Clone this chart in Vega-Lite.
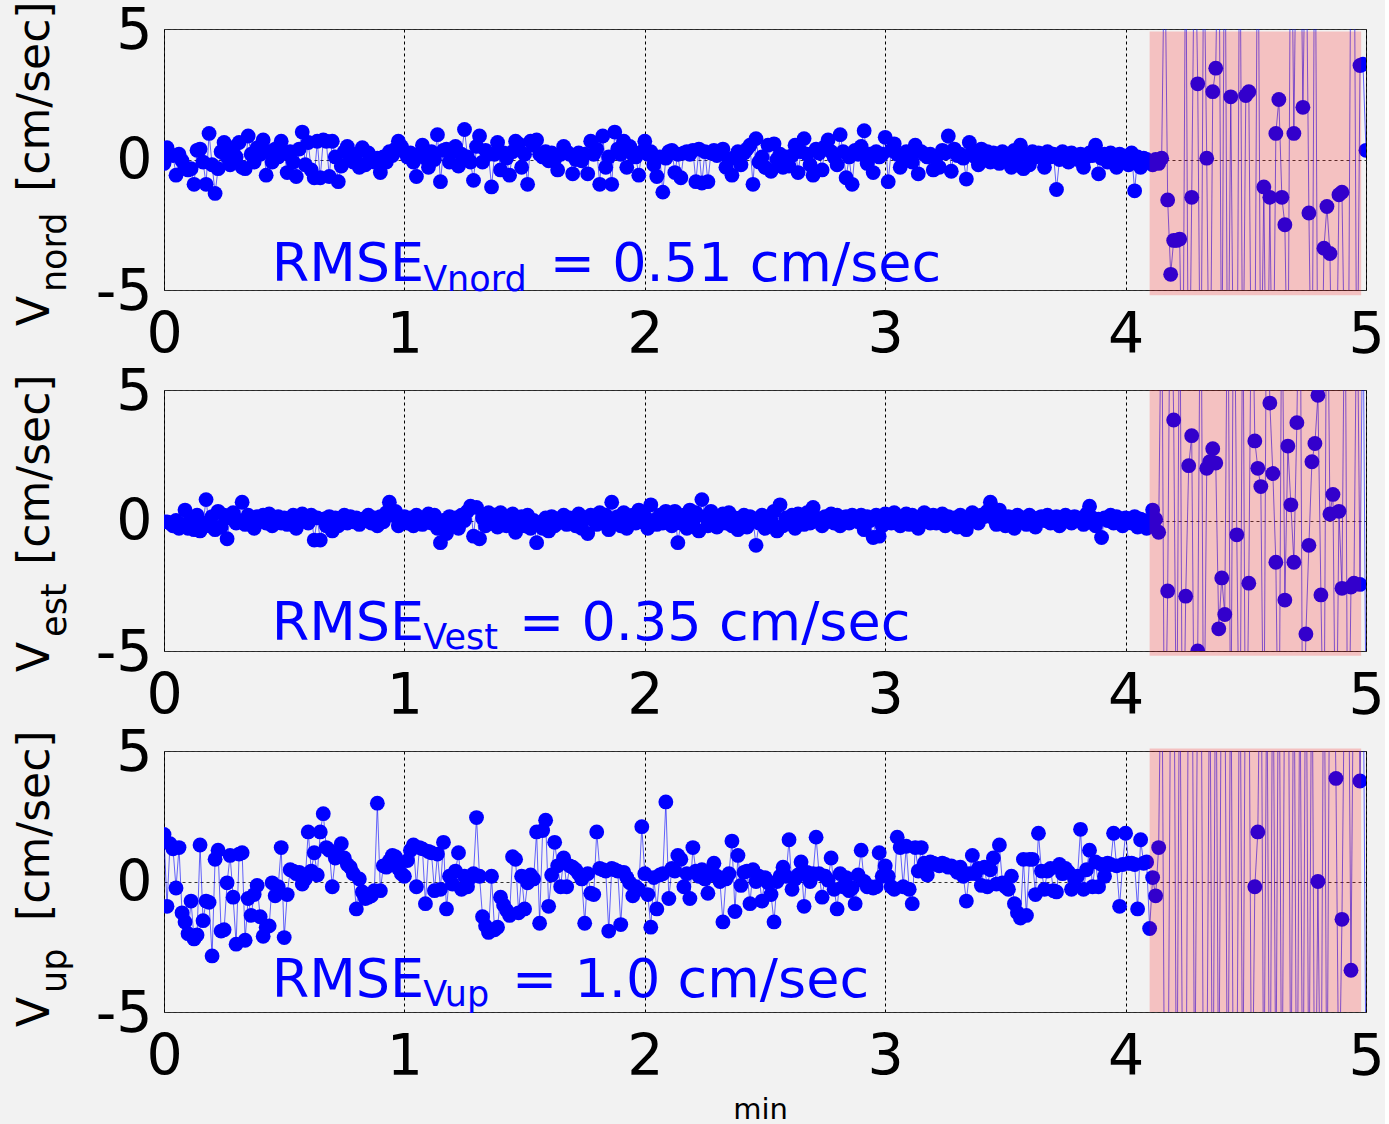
{
"$schema": "https://vega.github.io/schema/vega-lite/v6.json",
"background": "#f2f2f2",
"padding": {"left": 13, "top": 0, "right": 0, "bottom": 0},
"config": {"view": {"stroke": "#262626", "strokeWidth": 1}, "font": "DejaVu Sans"},
"spacing": 100,
"bounds": "flush",
"datasets": {"vel": [
{"t":0,"n":-0.15,"e":-0.05,"u":1.8},{"t":0.0125,"n":0.45,"e":-0.05,"u":-0.95},{"t":0.025,"n":0.2,"e":-0.1,"u":1.45},{"t":0.0375,"n":0.15,"e":-0.2,"u":1.25},{"t":0.05,"n":-0.6,"e":0,"u":-0.25},{"t":0.0625,"n":0.2,"e":-0.3,"u":1.3},{"t":0.075,"n":-0.05,"e":-0.15,"u":-1.2},{"t":0.0875,"n":-0.3,"e":0.4,"u":-1.55},
{"t":0.1,"n":-0.4,"e":-0.3,"u":-2},{"t":0.1125,"n":-0.35,"e":0.1,"u":-0.75},{"t":0.125,"n":-0.95,"e":-0.35,"u":-2.2},{"t":0.1375,"n":0.35,"e":0.2,"u":-2.05},{"t":0.15,"n":0.4,"e":-0.4,"u":1.4},{"t":0.1625,"n":-0.1,"e":-0.1,"u":-1.5},{"t":0.175,"n":-0.95,"e":0.8,"u":-0.75},{"t":0.1875,"n":1,"e":-0.2,"u":-0.8},
{"t":0.2,"n":-0.2,"e":0.15,"u":-2.85},{"t":0.2125,"n":-1.3,"e":-0.35,"u":0.85},{"t":0.225,"n":-0.35,"e":0.35,"u":1.2},{"t":0.2375,"n":0.3,"e":-0.25,"u":-1.9},{"t":0.25,"n":0.65,"e":0.2,"u":-1.85},{"t":0.2625,"n":0.1,"e":-0.7,"u":-0.05},{"t":0.275,"n":-0.2,"e":0.1,"u":1},{"t":0.2875,"n":0.45,"e":0.3,"u":-0.6},
{"t":0.3,"n":0.1,"e":-0.1,"u":-2.4},{"t":0.3125,"n":0.65,"e":0,"u":1.05},{"t":0.325,"n":-0.3,"e":0.7,"u":1.1},{"t":0.3375,"n":-0.35,"e":-0.15,"u":-2.25},{"t":0.35,"n":0.9,"e":0.2,"u":-0.65},{"t":0.3625,"n":0.2,"e":0.1,"u":-1.3},{"t":0.375,"n":-0.1,"e":-0.3,"u":-0.5},{"t":0.3875,"n":0.45,"e":0.15,"u":-0.15},
{"t":0.4,"n":0.2,"e":0.05,"u":-1.35},{"t":0.4125,"n":0.75,"e":0.2,"u":-2.1},{"t":0.425,"n":-0.6,"e":-0.1,"u":-1.75},{"t":0.4375,"n":0.3,"e":0.25,"u":-1.7},{"t":0.45,"n":-0.1,"e":-0.2,"u":-0.05},{"t":0.4625,"n":0.4,"e":0,"u":-0.55},{"t":0.475,"n":0.1,"e":0.15,"u":-0.2},{"t":0.4875,"n":0.7,"e":-0.1,"u":1.3},
{"t":0.5,"n":0.25,"e":0.1,"u":-2.15},{"t":0.5125,"n":-0.5,"e":-0.15,"u":-0.5},{"t":0.525,"n":0.3,"e":0.05,"u":0.45},{"t":0.5375,"n":-0.1,"e":0.2,"u":0.4},{"t":0.55,"n":-0.65,"e":-0.3,"u":0.3},{"t":0.5625,"n":0.4,"e":0.1,"u":0.35},{"t":0.575,"n":1.05,"e":0.25,"u":-0.1},{"t":0.5875,"n":-0.2,"e":0.05,"u":0.1},
{"t":0.6,"n":0.65,"e":-0.1,"u":1.9},{"t":0.6125,"n":-0.4,"e":0.2,"u":0.4},{"t":0.625,"n":-0.7,"e":-0.75,"u":1.1},{"t":0.6375,"n":0.7,"e":0.1,"u":0.25},{"t":0.65,"n":-0.7,"e":-0.75,"u":1.9},{"t":0.6625,"n":0.75,"e":0.05,"u":2.6},{"t":0.675,"n":0.7,"e":-0.2,"u":1.3},{"t":0.6875,"n":-0.65,"e":0.15,"u":1.2},
{"t":0.7,"n":0.7,"e":-0.4,"u":-0.2},{"t":0.7125,"n":0.1,"e":0.1,"u":0.9},{"t":0.725,"n":-0.85,"e":-0.2,"u":1},{"t":0.7375,"n":-0.25,"e":0,"u":1.45},{"t":0.75,"n":0.3,"e":0.2,"u":0.9},{"t":0.7625,"n":0.5,"e":-0.1,"u":0.65},{"t":0.775,"n":0.1,"e":0.15,"u":0.55},{"t":0.7875,"n":-0.1,"e":-0.05,"u":0.3},
{"t":0.8,"n":0.2,"e":0.1,"u":-1.05},{"t":0.8125,"n":-0.3,"e":-0.15,"u":0.1},{"t":0.825,"n":0.45,"e":0.05,"u":-0.4},{"t":0.8375,"n":-0.2,"e":0,"u":-0.65},{"t":0.85,"n":0.25,"e":0.2,"u":-0.6},{"t":0.8625,"n":0,"e":-0.1,"u":-0.55},{"t":0.875,"n":-0.1,"e":0.1,"u":-0.35},{"t":0.8875,"n":0.05,"e":-0.2,"u":3},
{"t":0.9,"n":-0.5,"e":0.15,"u":-0.35},{"t":0.9125,"n":0.1,"e":-0.05,"u":0.6},{"t":0.925,"n":-0.1,"e":0.3,"u":0.55},{"t":0.9375,"n":0.3,"e":0.7,"u":0.8},{"t":0.95,"n":0.15,"e":0.2,"u":1},{"t":0.9625,"n":0.4,"e":0.35,"u":0.95},{"t":0.975,"n":0.7,"e":-0.2,"u":0.5},{"t":0.9875,"n":0.5,"e":0,"u":0.3},
{"t":1,"n":0.3,"e":0.15,"u":0.2},{"t":1.0125,"n":0.1,"e":-0.1,"u":0.8},{"t":1.025,"n":0.25,"e":0.1,"u":1.2},{"t":1.0375,"n":-0.1,"e":-0.2,"u":1.4},{"t":1.05,"n":-0.65,"e":0.2,"u":-0.2},{"t":1.0625,"n":0.2,"e":0,"u":1.3},{"t":1.075,"n":0.55,"e":-0.15,"u":1.25},{"t":1.0875,"n":0.05,"e":0.1,"u":-0.85},
{"t":1.1,"n":-0.3,"e":0.25,"u":1.15},{"t":1.1125,"n":0.3,"e":-0.1,"u":1.1},{"t":1.125,"n":0,"e":0.2,"u":-0.35},{"t":1.1375,"n":0.95,"e":-0.3,"u":1.05},{"t":1.15,"n":-0.85,"e":-0.85,"u":-0.3},{"t":1.1625,"n":0.35,"e":0,"u":1.5},{"t":1.175,"n":0.4,"e":-0.5,"u":-1.05},{"t":1.1875,"n":-0.1,"e":0.15,"u":0.2},
{"t":1.2,"n":0.3,"e":-0.2,"u":-0.1},{"t":1.2125,"n":0.5,"e":0.1,"u":0.4},{"t":1.225,"n":-0.25,"e":-0.3,"u":1.1},{"t":1.2375,"n":0.2,"e":0.2,"u":-0.3},{"t":1.25,"n":1.15,"e":0,"u":0.2},{"t":1.2625,"n":0.1,"e":0.35,"u":-0.2},{"t":1.275,"n":-0.1,"e":0.55,"u":0.15},{"t":1.2875,"n":-0.8,"e":-0.6,"u":0.3},
{"t":1.3,"n":0.5,"e":0.5,"u":2.45},{"t":1.3125,"n":0.9,"e":-0.7,"u":0.2},{"t":1.325,"n":-0.1,"e":0.1,"u":-1.35},{"t":1.3375,"n":0.35,"e":-0.2,"u":-1.7},{"t":1.35,"n":0.2,"e":0.3,"u":-1.95},{"t":1.3625,"n":-1.05,"e":-0.1,"u":0.2},{"t":1.375,"n":0.2,"e":0.2,"u":-1.85},{"t":1.3875,"n":0.65,"e":-0.25,"u":-1.75},
{"t":1.4,"n":-0.4,"e":0.3,"u":-0.6},{"t":1.4125,"n":0.25,"e":0.1,"u":-0.9},{"t":1.425,"n":0.05,"e":-0.2,"u":-1.1},{"t":1.4375,"n":-0.6,"e":0,"u":-1.3},{"t":1.45,"n":0.3,"e":0.25,"u":0.95},{"t":1.4625,"n":0.7,"e":-0.45,"u":0.85},{"t":1.475,"n":0.6,"e":-0.1,"u":-1.2},{"t":1.4875,"n":-0.3,"e":0.15,"u":0.2},
{"t":1.5,"n":0.2,"e":-0.2,"u":-1.05},{"t":1.5125,"n":-0.95,"e":0.2,"u":-0.05},{"t":1.525,"n":0.7,"e":-0.3,"u":0.25},{"t":1.5375,"n":0.55,"e":0,"u":0.1},{"t":1.55,"n":0.75,"e":-0.85,"u":1.9},{"t":1.5625,"n":0.2,"e":-0.1,"u":-1.6},{"t":1.575,"n":0.1,"e":-0.3,"u":1.95},{"t":1.5875,"n":0.3,"e":0.1,"u":2.35},
{"t":1.6,"n":-0.05,"e":-0.4,"u":-0.95},{"t":1.6125,"n":0.25,"e":0.15,"u":0.25},{"t":1.625,"n":0,"e":-0.2,"u":1.5},{"t":1.6375,"n":-0.4,"e":0.05,"u":0.6},{"t":1.65,"n":0.2,"e":-0.05,"u":-0.2},{"t":1.6625,"n":0.5,"e":0.2,"u":0.9},{"t":1.675,"n":0.3,"e":-0.15,"u":-0.2},{"t":1.6875,"n":0.2,"e":0.1,"u":0.6},
{"t":1.7,"n":-0.55,"e":0,"u":0.55},{"t":1.7125,"n":0,"e":-0.2,"u":0.45},{"t":1.725,"n":0.25,"e":0.25,"u":0.3},{"t":1.7375,"n":-0.05,"e":-0.3,"u":0.1},{"t":1.75,"n":0.2,"e":0.1,"u":-1.6},{"t":1.7625,"n":-0.55,"e":-0.5,"u":0.3},{"t":1.775,"n":0.7,"e":0.2,"u":-0.45},{"t":1.7875,"n":0.2,"e":0,"u":-0.5},
{"t":1.8,"n":0.4,"e":-0.15,"u":1.9},{"t":1.8125,"n":-0.95,"e":0.3,"u":0.5},{"t":1.825,"n":0.9,"e":-0.1,"u":0.45},{"t":1.8375,"n":-0.3,"e":0.2,"u":0.4},{"t":1.85,"n":0.1,"e":-0.35,"u":-1.9},{"t":1.8625,"n":-0.95,"e":0.7,"u":0.5},{"t":1.875,"n":1.05,"e":-0.1,"u":0.45},{"t":1.8875,"n":0.4,"e":0.15,"u":0.4},
{"t":1.9,"n":0.2,"e":-0.2,"u":-1.65},{"t":1.9125,"n":0.7,"e":0.3,"u":0.35},{"t":1.925,"n":-0.3,"e":-0.3,"u":0.15},{"t":1.9375,"n":0.5,"e":0.05,"u":-0.05},{"t":1.95,"n":0.2,"e":0.2,"u":-0.55},{"t":1.9625,"n":0.1,"e":-0.1,"u":-0.2},{"t":1.975,"n":-0.6,"e":0.4,"u":-0.3},{"t":1.9875,"n":0.3,"e":-0.05,"u":2.1},
{"t":2,"n":0.7,"e":0.15,"u":0.3},{"t":2.0125,"n":0.2,"e":-0.3,"u":-0.5},{"t":2.025,"n":0.3,"e":0.6,"u":-1.75},{"t":2.0375,"n":-0.2,"e":0,"u":0.15},{"t":2.05,"n":-0.65,"e":-0.15,"u":-1.05},{"t":2.0625,"n":0.1,"e":0.2,"u":0.25},{"t":2.075,"n":-1.25,"e":-0.1,"u":0.3},{"t":2.0875,"n":0.05,"e":0.35,"u":3.05},
{"t":2.1,"n":0.3,"e":0.1,"u":-0.65},{"t":2.1125,"n":0.35,"e":-0.2,"u":0.5},{"t":2.125,"n":-0.5,"e":0.35,"u":0.4},{"t":2.1375,"n":0.2,"e":-0.85,"u":1},{"t":2.15,"n":-0.7,"e":-0.1,"u":0.85},{"t":2.1625,"n":0.25,"e":0.2,"u":-0.2},{"t":2.175,"n":0.3,"e":-0.3,"u":0.3},{"t":2.1875,"n":0.2,"e":0.4,"u":-0.65},
{"t":2.2,"n":0.35,"e":-0.1,"u":1.3},{"t":2.2125,"n":-0.85,"e":0.3,"u":0.4},{"t":2.225,"n":0.4,"e":-0.4,"u":0.2},{"t":2.2375,"n":-0.9,"e":0.8,"u":0.45},{"t":2.25,"n":0.3,"e":0.15,"u":0.1},{"t":2.2625,"n":-0.85,"e":-0.2,"u":-0.45},{"t":2.275,"n":0.25,"e":0.35,"u":0.3},{"t":2.2875,"n":0.35,"e":0,"u":0.7},
{"t":2.3,"n":0.15,"e":-0.25,"u":0.2},{"t":2.3125,"n":0.3,"e":0.1,"u":0},{"t":2.325,"n":0.4,"e":0.25,"u":-1.55},{"t":2.3375,"n":-0.3,"e":-0.1,"u":0.1},{"t":2.35,"n":0,"e":0.3,"u":0.3},{"t":2.3625,"n":-0.6,"e":-0.2,"u":1.55},{"t":2.375,"n":0.1,"e":0.1,"u":-1.15},{"t":2.3875,"n":0.3,"e":-0.35,"u":1},
{"t":2.4,"n":-0.2,"e":0,"u":-0.15},{"t":2.4125,"n":0.25,"e":0.2,"u":0.35},{"t":2.425,"n":0.4,"e":-0.25,"u":0.4},{"t":2.4375,"n":0.55,"e":0.15,"u":-0.85},{"t":2.45,"n":-0.95,"e":0.05,"u":0.45},{"t":2.4625,"n":0.8,"e":-0.95,"u":0},{"t":2.475,"n":-0.1,"e":-0.1,"u":0.2},{"t":2.4875,"n":0.1,"e":0.2,"u":-0.75},
{"t":2.5,"n":-0.3,"e":-0.3,"u":0.15},{"t":2.5125,"n":0.55,"e":0.15,"u":-0.05},{"t":2.525,"n":-0.45,"e":0,"u":-0.5},{"t":2.5375,"n":0.6,"e":0.35,"u":-1.55},{"t":2.55,"n":0,"e":-0.4,"u":0},{"t":2.5625,"n":0.2,"e":0.6,"u":0.2},{"t":2.575,"n":-0.3,"e":-0.2,"u":0.55},{"t":2.5875,"n":0.1,"e":0.1,"u":0.2},
{"t":2.6,"n":-0.25,"e":-0.05,"u":1.6},{"t":2.6125,"n":0.15,"e":0.2,"u":-0.3},{"t":2.625,"n":0.55,"e":-0.3,"u":0.1},{"t":2.6375,"n":-0.5,"e":0.25,"u":0.25},{"t":2.65,"n":0.3,"e":0,"u":0.75},{"t":2.6625,"n":0.8,"e":-0.15,"u":-0.95},{"t":2.675,"n":0.2,"e":0.3,"u":0.35},{"t":2.6875,"n":-0.2,"e":-0.1,"u":0},
{"t":2.7,"n":-0.6,"e":0.5,"u":0.3},{"t":2.7125,"n":0.4,"e":0.1,"u":1.7},{"t":2.725,"n":0.25,"e":0.05,"u":0.3},{"t":2.7375,"n":-0.4,"e":-0.2,"u":-0.6},{"t":2.75,"n":0.5,"e":0.15,"u":0.2},{"t":2.7625,"n":0.75,"e":0,"u":0.05},{"t":2.775,"n":0.3,"e":0.25,"u":0.9},{"t":2.7875,"n":0.1,"e":-0.1,"u":-0.3},
{"t":2.8,"n":-0.2,"e":0.2,"u":-1.05},{"t":2.8125,"n":0.95,"e":-0.2,"u":0.3},{"t":2.825,"n":0.3,"e":0.1,"u":-0.2},{"t":2.8375,"n":-0.7,"e":0.15,"u":0.15},{"t":2.85,"n":0.1,"e":-0.1,"u":-0.35},{"t":2.8625,"n":-0.95,"e":0.2,"u":-0.25},{"t":2.875,"n":0.35,"e":0.1,"u":-0.85},{"t":2.8875,"n":0.2,"e":-0.05,"u":0.25},
{"t":2.9,"n":0.5,"e":0.2,"u":1.2},{"t":2.9125,"n":1.1,"e":-0.35,"u":0},{"t":2.925,"n":-0.15,"e":0.15,"u":-0.2},{"t":2.9375,"n":0.2,"e":0,"u":-0.2},{"t":2.95,"n":-0.5,"e":-0.65,"u":-0.25},{"t":2.9625,"n":0.3,"e":0.2,"u":-0.2},{"t":2.975,"n":0.1,"e":-0.6,"u":1.1},{"t":2.9875,"n":0.2,"e":-0.2,"u":0.2},
{"t":3,"n":0.85,"e":0.25,"u":0.6},{"t":3.0125,"n":-0.85,"e":0.1,"u":0.2},{"t":3.025,"n":0.35,"e":-0.1,"u":-0.2},{"t":3.0375,"n":0.6,"e":0.3,"u":-0.3},{"t":3.05,"n":0.2,"e":0,"u":1.7},{"t":3.0625,"n":-0.3,"e":-0.2,"u":1.3},{"t":3.075,"n":0,"e":0.1,"u":-0.2},{"t":3.0875,"n":0.3,"e":0.25,"u":1.35},
{"t":3.1,"n":0.25,"e":-0.15,"u":-0.3},{"t":3.1125,"n":-0.1,"e":0.2,"u":-0.85},{"t":3.125,"n":0.55,"e":0,"u":1.3},{"t":3.1375,"n":-0.55,"e":-0.3,"u":0.4},{"t":3.15,"n":0.3,"e":0.15,"u":1.3},{"t":3.1625,"n":0.2,"e":0.3,"u":0.7},{"t":3.175,"n":0.1,"e":0,"u":0.25},{"t":3.1875,"n":0.2,"e":-0.1,"u":0.75},
{"t":3.2,"n":-0.4,"e":0.2,"u":0.7},{"t":3.2125,"n":0.1,"e":-0.1,"u":0.65},{"t":3.225,"n":-0.3,"e":0.1,"u":0.6},{"t":3.2375,"n":0.35,"e":0.25,"u":0.7},{"t":3.25,"n":0.25,"e":-0.2,"u":0.65},{"t":3.2625,"n":0.9,"e":0.15,"u":0.55},{"t":3.275,"n":-0.45,"e":0.05,"u":0.6},{"t":3.2875,"n":0.4,"e":0.1,"u":0.5},
{"t":3.3,"n":0.15,"e":-0.25,"u":0.35},{"t":3.3125,"n":0.2,"e":0.2,"u":0.55},{"t":3.325,"n":0.05,"e":0.1,"u":0.2},{"t":3.3375,"n":-0.75,"e":-0.35,"u":-0.75},{"t":3.35,"n":0.65,"e":0,"u":0.3},{"t":3.3625,"n":0.3,"e":0.3,"u":1},{"t":3.375,"n":0.1,"e":0.05,"u":0.3},{"t":3.3875,"n":-0.2,"e":-0.1,"u":0.5},
{"t":3.4,"n":0.4,"e":0.2,"u":-0.15},{"t":3.4125,"n":0.1,"e":0.15,"u":0.55},{"t":3.425,"n":0.3,"e":0.35,"u":-0.2},{"t":3.4375,"n":-0.1,"e":0.7,"u":0.45},{"t":3.45,"n":0.25,"e":0.1,"u":0.9},{"t":3.4625,"n":0,"e":-0.15,"u":-0.1},{"t":3.475,"n":-0.15,"e":0.4,"u":1.4},{"t":3.4875,"n":0.3,"e":0,"u":-0.05},
{"t":3.5,"n":0.05,"e":-0.2,"u":-0.2},{"t":3.5125,"n":0.2,"e":0.15,"u":-0.3},{"t":3.525,"n":-0.3,"e":0.1,"u":0.2},{"t":3.5375,"n":0.35,"e":-0.3,"u":-0.85},{"t":3.55,"n":0.1,"e":0.2,"u":-1.2},{"t":3.5625,"n":0.55,"e":0,"u":-1.4},{"t":3.575,"n":-0.35,"e":0.1,"u":0.85},{"t":3.5875,"n":0.2,"e":-0.15,"u":-1.3},
{"t":3.6,"n":-0.2,"e":0.2,"u":0.85},{"t":3.6125,"n":0.3,"e":0.05,"u":0.85},{"t":3.625,"n":0.1,"e":-0.25,"u":-0.5},{"t":3.6375,"n":0.25,"e":0.1,"u":1.85},{"t":3.65,"n":0.2,"e":0.15,"u":0.4},{"t":3.6625,"n":-0.3,"e":0,"u":-0.3},{"t":3.675,"n":0.3,"e":0.2,"u":0.4},{"t":3.6875,"n":0.1,"e":-0.1,"u":0.5},
{"t":3.7,"n":0.2,"e":0.05,"u":-0.35},{"t":3.7125,"n":-1.15,"e":0.15,"u":-0.4},{"t":3.725,"n":0,"e":-0.2,"u":0.65},{"t":3.7375,"n":0.3,"e":0.1,"u":0.3},{"t":3.75,"n":0.15,"e":0.2,"u":0.5},{"t":3.7625,"n":-0.1,"e":0,"u":0.35},{"t":3.775,"n":0.25,"e":-0.1,"u":-0.3},{"t":3.7875,"n":0.1,"e":0.15,"u":0.1},
{"t":3.8,"n":0,"e":0.1,"u":0.2},{"t":3.8125,"n":0.2,"e":0,"u":2},{"t":3.825,"n":-0.3,"e":-0.15,"u":-0.3},{"t":3.8375,"n":0.1,"e":0.25,"u":0.45},{"t":3.85,"n":0.25,"e":0.55,"u":1.2},{"t":3.8625,"n":0.15,"e":0.1,"u":-0.2},{"t":3.875,"n":0.55,"e":-0.2,"u":0.75},{"t":3.8875,"n":-0.55,"e":0.05,"u":-0.2},
{"t":3.9,"n":0.05,"e":-0.65,"u":0.65},{"t":3.9125,"n":0.2,"e":0.1,"u":0.2},{"t":3.925,"n":-0.1,"e":0,"u":0.7},{"t":3.9375,"n":0.25,"e":0.2,"u":0.65},{"t":3.95,"n":0.1,"e":-0.1,"u":1.85},{"t":3.9625,"n":-0.3,"e":0.15,"u":0.6},{"t":3.975,"n":0.2,"e":0.05,"u":-0.95},{"t":3.9875,"n":0.15,"e":-0.2,"u":0.65},
{"t":4,"n":0.1,"e":0.1,"u":1.85},{"t":4.0125,"n":-0.2,"e":0,"u":0.7},{"t":4.025,"n":0.25,"e":-0.1,"u":0.7},{"t":4.0375,"n":-1.2,"e":0.15,"u":0.65},{"t":4.05,"n":0.1,"e":-0.25,"u":-1.05},{"t":4.0625,"n":-0.3,"e":0.05,"u":1.6},{"t":4.075,"n":0.05,"e":0,"u":0.7},{"t":4.0875,"n":0,"e":-0.3,"u":0.75},
{"t":4.1,"n":-0.1,"e":-0.1,"u":-1.8},{"t":4.1125,"n":-0.2,"e":0.4,"u":0.15},{"t":4.125,"n":0,"e":0.05,"u":-0.55},{"t":4.1375,"n":-0.15,"e":-0.45,"u":1.3},{"t":4.15,"n":0.05,"e":10,"u":11},{"t":4.1625,"n":9,"e":-11,"u":-10},{"t":4.175,"n":-1.55,"e":-2.7,"u":-12},{"t":4.1875,"n":-4.4,"e":12,"u":9},
{"t":4.2,"n":-3.1,"e":3.85,"u":12},{"t":4.2125,"n":-3.1,"e":-10,"u":-11},{"t":4.225,"n":-3.05,"e":11,"u":10},{"t":4.2375,"n":-11,"e":-12,"u":-9},{"t":4.25,"n":10,"e":-2.9,"u":-12},{"t":4.2625,"n":-12,"e":2.1,"u":11},{"t":4.275,"n":-1.45,"e":3.25,"u":13},{"t":4.2875,"n":10,"e":-11,"u":-10},
{"t":4.3,"n":2.9,"e":-5,"u":9},{"t":4.3125,"n":-11,"e":12,"u":12},{"t":4.325,"n":9,"e":-10,"u":-11},{"t":4.3375,"n":0.05,"e":2,"u":-9},{"t":4.35,"n":-12,"e":2.25,"u":10},{"t":4.3625,"n":2.6,"e":2.75,"u":-12},{"t":4.375,"n":3.5,"e":2.2,"u":11},{"t":4.3875,"n":11,"e":-4.15,"u":-10},
{"t":4.4,"n":-10,"e":-2.2,"u":12},{"t":4.4125,"n":12,"e":-3.6,"u":9},{"t":4.425,"n":-11,"e":11,"u":-11},{"t":4.4375,"n":2.4,"e":-10,"u":10},{"t":4.45,"n":-10,"e":12,"u":-12},{"t":4.4625,"n":-12,"e":-0.55,"u":-9},{"t":4.475,"n":11,"e":-11,"u":11},{"t":4.4875,"n":-10,"e":10,"u":-10},
{"t":4.5,"n":2.45,"e":-12,"u":12},{"t":4.5125,"n":2.6,"e":-2.4,"u":10},{"t":4.525,"n":-11,"e":11,"u":-11},{"t":4.5375,"n":-9,"e":3.05,"u":-0.2},{"t":4.55,"n":12,"e":2,"u":1.9},{"t":4.5625,"n":-10,"e":1.3,"u":12},{"t":4.575,"n":-1.05,"e":-10,"u":-10},{"t":4.5875,"n":-12,"e":12,"u":9},
{"t":4.6,"n":-1.45,"e":4.5,"u":-12},{"t":4.6125,"n":-11,"e":1.8,"u":11},{"t":4.625,"n":1,"e":-1.6,"u":-9},{"t":4.6375,"n":2.3,"e":-11,"u":12},{"t":4.65,"n":-1.45,"e":10,"u":-11},{"t":4.6625,"n":-2.5,"e":-3.05,"u":10},{"t":4.675,"n":-10,"e":2.85,"u":13},{"t":4.6875,"n":12,"e":0.6,"u":-10},
{"t":4.7,"n":1,"e":-1.6,"u":11},{"t":4.7125,"n":11,"e":3.75,"u":-12},{"t":4.725,"n":12,"e":12,"u":9},{"t":4.7375,"n":2,"e":-11,"u":-11},{"t":4.75,"n":10,"e":-4.35,"u":12},{"t":4.7625,"n":-2.05,"e":-0.95,"u":-10},{"t":4.775,"n":-11,"e":2.25,"u":11},{"t":4.7875,"n":12,"e":2.95,"u":-12},
{"t":4.8,"n":-10,"e":4.8,"u":0},{"t":4.8125,"n":-12,"e":-2.85,"u":-11},{"t":4.825,"n":-3.4,"e":-10,"u":12},{"t":4.8375,"n":-1.8,"e":12,"u":-10},{"t":4.85,"n":-3.6,"e":0.25,"u":11},{"t":4.8625,"n":-12,"e":1,"u":12},{"t":4.875,"n":-10,"e":-11,"u":3.95},{"t":4.8875,"n":-1.35,"e":0.35,"u":-9},
{"t":4.9,"n":-1.25,"e":-2.6,"u":-1.45},{"t":4.9125,"n":-9,"e":11,"u":10},{"t":4.925,"n":-12,"e":-12,"u":12},{"t":4.9375,"n":10,"e":-2.55,"u":-3.4},{"t":4.95,"n":11,"e":-2.4,"u":11},{"t":4.9625,"n":-11,"e":10,"u":12},{"t":4.975,"n":3.6,"e":-2.45,"u":3.85},{"t":4.9875,"n":3.65,"e":9,"u":10},
{"t":5,"n":0.35,"e":-8,"u":-8}
]},
"vconcat": [
{
"width": 1202, "height": 261,
"data": {"name": "vel"},
"layer": [
{"mark": {"type": "line", "clip": true, "color": "#0000ff", "strokeWidth": 1, "opacity": 0.6},
 "encoding": {
  "x": {"field": "t", "type": "quantitative", "scale": {"domain": [0, 5]}, "axis": {"values": [0,1,2,3,4,5], "title": null, "labelExpr": "'' + datum.value", "labelFont": "DejaVu Sans", "labelFontSize": 57, "labelColor": "#000", "labelPadding": 17, "labelFlush": false, "labelOverlap": false, "ticks": false, "domain": false, "grid": true, "gridColor": "#000", "gridDash": [3,3], "gridOpacity": 1}},
  "y": {"field": "n", "type": "quantitative", "scale": {"domain": [-5, 5]}, "axis": {"values": [-5,0,5], "title": null, "labelExpr": "'' + datum.value", "labelFont": "DejaVu Sans", "labelFontSize": 57, "labelColor": "#000", "labelPadding": 12, "labelOffset": 2, "labelOverlap": false, "ticks": false, "domain": false, "grid": true, "gridColor": "#333", "gridDash": [3,3], "gridOpacity": 1}}
 }},
{"mark": {"type": "point", "filled": true, "clip": true, "size": 220, "color": "#0000ff", "opacity": 1},
 "encoding": {"x": {"field": "t", "type": "quantitative"}, "y": {"field": "n", "type": "quantitative"}}},
{"data": {"values": [{}]}, "mark": {"type": "rect", "color": "#ff0000", "opacity": 0.2},
 "encoding": {"x": {"datum": 4.1, "type": "quantitative"}, "x2": {"datum": 4.98}, "y": {"datum": -5.2, "type": "quantitative"}, "y2": {"datum": 4.9}}},
{"data": {"values": [{}]}, "mark": {"type": "text", "text": "RMSE", "font": "DejaVu Sans", "fontSize": 54, "color": "#0000ff", "align": "left", "baseline": "alphabetic"},
 "encoding": {"x": {"datum": 0.448, "type": "quantitative"}, "y": {"datum": -4.66, "type": "quantitative"}}},
{"data": {"values": [{}]}, "mark": {"type": "text", "text": "Vnord", "font": "DejaVu Sans", "fontSize": 35, "color": "#0000ff", "align": "left", "baseline": "alphabetic"},
 "encoding": {"x": {"datum": 1.078, "type": "quantitative"}, "y": {"datum": -5.04, "type": "quantitative"}}},
{"data": {"values": [{}]}, "mark": {"type": "text", "text": "= 0.51 cm/sec", "font": "DejaVu Sans", "fontSize": 54, "color": "#0000ff", "align": "left", "baseline": "alphabetic"},
 "encoding": {"x": {"datum": 1.605, "type": "quantitative"}, "y": {"datum": -4.66, "type": "quantitative"}}},
{"data": {"values": [{}]}, "mark": {"type": "text", "text": "V", "font": "DejaVu Sans", "fontSize": 44, "color": "#000", "align": "left", "baseline": "alphabetic", "angle": 270},
 "encoding": {"x": {"datum": -0.478, "type": "quantitative"}, "y": {"datum": -6.38, "type": "quantitative"}}},
{"data": {"values": [{}]}, "mark": {"type": "text", "text": "nord", "font": "DejaVu Sans", "fontSize": 35, "color": "#000", "align": "left", "baseline": "alphabetic", "angle": 270},
 "encoding": {"x": {"datum": -0.408, "type": "quantitative"}, "y": {"datum": -5.08, "type": "quantitative"}}},
{"data": {"values": [{}]}, "mark": {"type": "text", "text": "[cm/sec]", "font": "DejaVu Sans", "fontSize": 44, "color": "#000", "align": "left", "baseline": "alphabetic", "angle": 270},
 "encoding": {"x": {"datum": -0.478, "type": "quantitative"}, "y": {"datum": -1.24, "type": "quantitative"}}}
]
},
{
"width": 1202, "height": 261,
"data": {"name": "vel"},
"layer": [
{"mark": {"type": "line", "clip": true, "color": "#0000ff", "strokeWidth": 1, "opacity": 0.6},
 "encoding": {
  "x": {"field": "t", "type": "quantitative", "scale": {"domain": [0, 5]}, "axis": {"values": [0,1,2,3,4,5], "title": null, "labelExpr": "'' + datum.value", "labelFont": "DejaVu Sans", "labelFontSize": 57, "labelColor": "#000", "labelPadding": 17, "labelFlush": false, "labelOverlap": false, "ticks": false, "domain": false, "grid": true, "gridColor": "#000", "gridDash": [3,3], "gridOpacity": 1}},
  "y": {"field": "e", "type": "quantitative", "scale": {"domain": [-5, 5]}, "axis": {"values": [-5,0,5], "title": null, "labelExpr": "'' + datum.value", "labelFont": "DejaVu Sans", "labelFontSize": 57, "labelColor": "#000", "labelPadding": 12, "labelOffset": 2, "labelOverlap": false, "ticks": false, "domain": false, "grid": true, "gridColor": "#333", "gridDash": [3,3], "gridOpacity": 1}}
 }},
{"mark": {"type": "point", "filled": true, "clip": true, "size": 220, "color": "#0000ff", "opacity": 1},
 "encoding": {"x": {"field": "t", "type": "quantitative"}, "y": {"field": "e", "type": "quantitative"}}},
{"data": {"values": [{}]}, "mark": {"type": "rect", "color": "#ff0000", "opacity": 0.2},
 "encoding": {"x": {"datum": 4.1, "type": "quantitative"}, "x2": {"datum": 4.98}, "y": {"datum": -5.18, "type": "quantitative"}, "y2": {"datum": 5}}},
{"data": {"values": [{}]}, "mark": {"type": "text", "text": "RMSE", "font": "DejaVu Sans", "fontSize": 54, "color": "#0000ff", "align": "left", "baseline": "alphabetic"},
 "encoding": {"x": {"datum": 0.448, "type": "quantitative"}, "y": {"datum": -4.58, "type": "quantitative"}}},
{"data": {"values": [{}]}, "mark": {"type": "text", "text": "Vest", "font": "DejaVu Sans", "fontSize": 35, "color": "#0000ff", "align": "left", "baseline": "alphabetic"},
 "encoding": {"x": {"datum": 1.078, "type": "quantitative"}, "y": {"datum": -4.92, "type": "quantitative"}}},
{"data": {"values": [{}]}, "mark": {"type": "text", "text": "= 0.35 cm/sec", "font": "DejaVu Sans", "fontSize": 54, "color": "#0000ff", "align": "left", "baseline": "alphabetic"},
 "encoding": {"x": {"datum": 1.477, "type": "quantitative"}, "y": {"datum": -4.58, "type": "quantitative"}}},
{"data": {"values": [{}]}, "mark": {"type": "text", "text": "V", "font": "DejaVu Sans", "fontSize": 44, "color": "#000", "align": "left", "baseline": "alphabetic", "angle": 270},
 "encoding": {"x": {"datum": -0.478, "type": "quantitative"}, "y": {"datum": -5.8, "type": "quantitative"}}},
{"data": {"values": [{}]}, "mark": {"type": "text", "text": "est", "font": "DejaVu Sans", "fontSize": 35, "color": "#000", "align": "left", "baseline": "alphabetic", "angle": 270},
 "encoding": {"x": {"datum": -0.408, "type": "quantitative"}, "y": {"datum": -4.46, "type": "quantitative"}}},
{"data": {"values": [{}]}, "mark": {"type": "text", "text": "[cm/sec]", "font": "DejaVu Sans", "fontSize": 44, "color": "#000", "align": "left", "baseline": "alphabetic", "angle": 270},
 "encoding": {"x": {"datum": -0.478, "type": "quantitative"}, "y": {"datum": -1.7, "type": "quantitative"}}}
]
},
{
"width": 1202, "height": 261,
"data": {"name": "vel"},
"layer": [
{"mark": {"type": "line", "clip": true, "color": "#0000ff", "strokeWidth": 1, "opacity": 0.6},
 "encoding": {
  "x": {"field": "t", "type": "quantitative", "scale": {"domain": [0, 5]}, "axis": {"values": [0,1,2,3,4,5], "title": "min", "titleFont": "DejaVu Sans", "titleFontSize": 29, "titleFontWeight": "normal", "titleColor": "#000", "titlePadding": 10, "titleX": 596, "labelExpr": "'' + datum.value", "labelFont": "DejaVu Sans", "labelFontSize": 57, "labelColor": "#000", "labelPadding": 17, "labelFlush": false, "labelOverlap": false, "ticks": false, "domain": false, "grid": true, "gridColor": "#000", "gridDash": [3,3], "gridOpacity": 1}},
  "y": {"field": "u", "type": "quantitative", "scale": {"domain": [-5, 5]}, "axis": {"values": [-5,0,5], "title": null, "labelExpr": "'' + datum.value", "labelFont": "DejaVu Sans", "labelFontSize": 57, "labelColor": "#000", "labelPadding": 12, "labelOffset": 2, "labelOverlap": false, "ticks": false, "domain": false, "grid": true, "gridColor": "#333", "gridDash": [3,3], "gridOpacity": 1}}
 }},
{"mark": {"type": "point", "filled": true, "clip": true, "size": 220, "color": "#0000ff", "opacity": 1},
 "encoding": {"x": {"field": "t", "type": "quantitative"}, "y": {"field": "u", "type": "quantitative"}}},
{"data": {"values": [{}]}, "mark": {"type": "rect", "color": "#ff0000", "opacity": 0.2},
 "encoding": {"x": {"datum": 4.1, "type": "quantitative"}, "x2": {"datum": 4.98}, "y": {"datum": -5, "type": "quantitative"}, "y2": {"datum": 5.1}}},
{"data": {"values": [{}]}, "mark": {"type": "text", "text": "RMSE", "font": "DejaVu Sans", "fontSize": 54, "color": "#0000ff", "align": "left", "baseline": "alphabetic"},
 "encoding": {"x": {"datum": 0.448, "type": "quantitative"}, "y": {"datum": -4.43, "type": "quantitative"}}},
{"data": {"values": [{}]}, "mark": {"type": "text", "text": "Vup", "font": "DejaVu Sans", "fontSize": 35, "color": "#0000ff", "align": "left", "baseline": "alphabetic"},
 "encoding": {"x": {"datum": 1.078, "type": "quantitative"}, "y": {"datum": -4.77, "type": "quantitative"}}},
{"data": {"values": [{}]}, "mark": {"type": "text", "text": "= 1.0 cm/sec", "font": "DejaVu Sans", "fontSize": 54, "color": "#0000ff", "align": "left", "baseline": "alphabetic"},
 "encoding": {"x": {"datum": 1.448, "type": "quantitative"}, "y": {"datum": -4.43, "type": "quantitative"}}},
{"data": {"values": [{}]}, "mark": {"type": "text", "text": "V", "font": "DejaVu Sans", "fontSize": 44, "color": "#000", "align": "left", "baseline": "alphabetic", "angle": 270},
 "encoding": {"x": {"datum": -0.478, "type": "quantitative"}, "y": {"datum": -5.57, "type": "quantitative"}}},
{"data": {"values": [{}]}, "mark": {"type": "text", "text": "up", "font": "DejaVu Sans", "fontSize": 35, "color": "#000", "align": "left", "baseline": "alphabetic", "angle": 270},
 "encoding": {"x": {"datum": -0.408, "type": "quantitative"}, "y": {"datum": -4.27, "type": "quantitative"}}},
{"data": {"values": [{}]}, "mark": {"type": "text", "text": "[cm/sec]", "font": "DejaVu Sans", "fontSize": 44, "color": "#000", "align": "left", "baseline": "alphabetic", "angle": 270},
 "encoding": {"x": {"datum": -0.478, "type": "quantitative"}, "y": {"datum": -1.51, "type": "quantitative"}}}
]
}
]
}
